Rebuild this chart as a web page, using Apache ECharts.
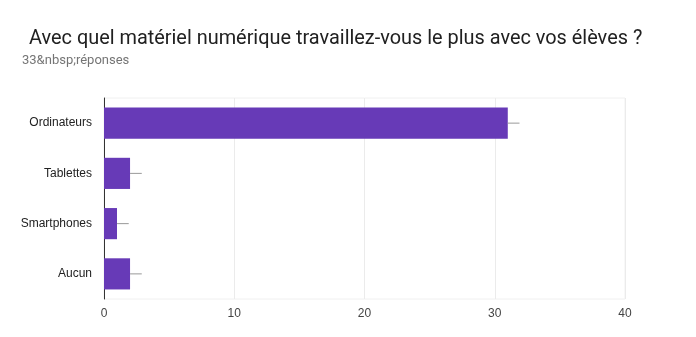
<!DOCTYPE html>
<html>
<head>
<meta charset="utf-8">
<script src="https://cdn.jsdelivr.net/npm/echarts@6/dist/echarts.min.js"></script>
<style>
  html, body { margin: 0; padding: 0; background: #fff; }
  #chart { width: 696px; height: 337px; }
</style>
</head>
<body>
<div id="chart"></div>
<script>
// Survey answers: devices used most with pupils
const categories = ['Ordinateurs', 'Tablettes', 'Smartphones', 'Aucun'];
const counts = [31, 2, 1, 2];
// Right end of the thin interval line drawn past each bar
const intervalEnds = [31.9, 2.9, 1.9, 2.9];
const xTicks = { min: 0, max: 40, interval: 10 };

const chart = echarts.init(document.getElementById('chart'));

chart.setOption({
  animation: false,
  title: [
    {
      text: 'Avec quel matériel numérique travaillez-vous le plus avec vos élèves ?',
      left: 29,
      top: 29,
      padding: 0,
      textStyle: { fontFamily: 'Roboto', fontSize: 19.9, fontWeight: 'normal', color: '#212121' }
    },
    {
      text: '33&nbsp;réponses',
      left: 22,
      top: 54,
      padding: 0,
      textStyle: { fontFamily: 'Roboto', fontSize: 13, fontWeight: 'normal', color: '#757575' }
    }
  ],
  grid: {
    left: 104, right: 71, top: 98, bottom: 38,
    show: true, borderColor: '#f0f0f0', borderWidth: 1, containLabel: false
  },
  xAxis: {
    type: 'value',
    min: xTicks.min, max: xTicks.max, interval: xTicks.interval,
    axisLine: { show: false },
    axisTick: { show: false },
    splitLine: { lineStyle: { color: '#ebebeb', width: 1 } },
    axisLabel: { fontFamily: 'Liberation Sans', fontSize: 12, color: '#444', margin: 9 }
  },
  yAxis: {
    type: 'category',
    data: categories,
    inverse: true,
    axisLine: { lineStyle: { color: '#333', width: 1 } },
    axisTick: { show: false },
    axisLabel: { fontFamily: 'Liberation Sans', fontSize: 12, color: '#222', margin: 12 }
  },
  series: [
    {
      type: 'bar',
      data: counts,
      barCategoryGap: '38%',
      itemStyle: { color: '#673ab7' },
      z: 2
    },
    {
      type: 'custom',
      z: 3,
      data: counts.map((v, i) => [v, intervalEnds[i], i]),
      renderItem: function (params, api) {
        const a = api.coord([api.value(0), api.value(2)]);
        const b = api.coord([api.value(1), api.value(2)]);
        return {
          type: 'line',
          shape: { x1: a[0], y1: a[1], x2: b[0], y2: b[1] },
          style: { stroke: '#999', lineWidth: 1 }
        };
      },
      encode: { x: [0, 1], y: 2 }
    }
  ]
});
</script>
</body>
</html>
